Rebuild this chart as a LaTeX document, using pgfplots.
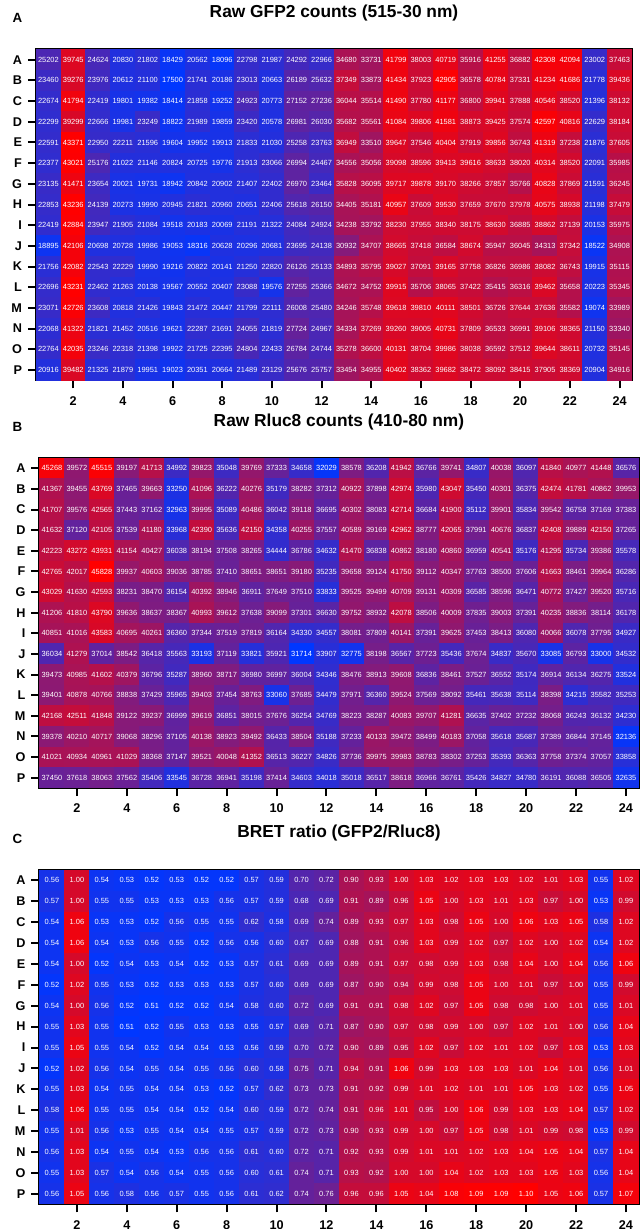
\documentclass[border=0pt]{standalone}
\usepackage{pgfplots}
\usepackage{pgfplotstable}
\pgfplotsset{compat=1.18}
\usepackage{fontspec}
\setmainfont{Liberation Sans}

% one row per plate row (A..P), one column per plate column (1..24)
\pgfplotstableread{
c1 c2 c3 c4 c5 c6 c7 c8 c9 c10 c11 c12 c13 c14 c15 c16 c17 c18 c19 c20 c21 c22 c23 c24
25202 39745 24624 20830 21802 18429 20562 18096 22798 21987 24292 22966 34680 33731 41799 38003 40719 35916 41255 36882 42308 42094 23002 37463
23460 39276 23976 20612 21100 17500 21741 20186 23013 20663 26189 25632 37349 33873 41434 37923 42905 36578 40784 37331 41234 41686 21778 39436
22674 41794 22419 19801 19382 18414 21858 19252 24923 20773 27152 27236 36044 35514 41490 37780 41177 36800 39941 37888 40546 38520 21396 38132
22299 39299 22666 19981 23249 18822 21989 19859 23420 20578 26981 26030 35682 35561 41084 39806 41581 38873 39425 37574 42597 40816 22629 38184
22591 43371 22950 22211 21596 19604 19952 19913 21833 21030 25258 23763 36949 33510 39647 37546 40404 37919 39856 36743 41319 37238 21876 37605
22377 43021 25176 21022 21146 20824 20725 19776 21913 23066 26994 24467 34556 35056 39098 38596 39413 39616 38633 38020 40314 38520 22091 35985
23135 41471 23654 20021 19731 18942 20842 20902 21407 22402 26970 23464 35828 36095 39717 39878 39170 38266 37857 35766 40828 37869 21591 36245
22853 43236 24139 20273 19990 20945 21821 20960 20651 22406 25618 26150 34405 35181 40957 37609 39530 37659 37670 37978 40575 38938 21198 37479
22419 42884 23947 21905 21084 19518 20183 20069 21191 21322 24084 24924 34238 33792 38230 37955 38340 38175 38630 36885 38862 37139 20153 35975
18895 42106 20698 20728 19986 19053 18316 20628 20296 20681 23695 24138 30932 34707 38665 37418 36584 38674 35947 36045 34313 37342 18522 34908
21756 42082 22543 22229 19990 19216 20822 20141 21250 22820 26126 25133 34893 35795 39027 37091 39165 37758 36826 36986 38082 36743 19915 35115
22696 43231 22462 21263 20138 19567 20552 20407 23088 19576 27255 25366 34672 34752 39915 35706 38065 37422 35415 36316 39462 35658 20223 35345
23071 42726 23608 20818 21426 19843 21472 20447 21799 22111 26008 25480 34246 35748 39618 39810 40111 38501 36726 37644 37636 35582 19074 33989
22068 41322 21821 21452 20516 19621 22287 21691 24055 21819 27724 24967 34334 37269 39260 39005 40731 37809 36533 36991 39106 38365 21150 33340
22764 42035 23246 22318 21398 19922 21725 22395 24804 22433 26784 24744 35278 36600 40131 38704 39986 38038 36592 37512 39644 38611 20732 35145
20916 39482 21325 21879 19951 19023 20351 20664 21489 23129 25676 25757 33454 34955 40402 38362 39682 38472 38092 38415 37905 38369 20904 34916
}\gfptable

\pgfplotstableread{
c1 c2 c3 c4 c5 c6 c7 c8 c9 c10 c11 c12 c13 c14 c15 c16 c17 c18 c19 c20 c21 c22 c23 c24
45268 39572 45515 39197 41713 34992 39823 35048 39769 37333 34658 32029 38578 36208 41942 36766 39741 34807 40038 36097 41840 40977 41448 36576
41367 39455 43769 37465 39663 33250 41096 36222 40276 35179 38282 37312 40922 37898 42974 35980 43047 35450 40301 36375 42474 41781 40862 39953
41707 39576 42565 37443 37162 32963 39995 35089 40486 36042 39118 36695 40302 38083 42714 36684 41900 35112 39901 35834 39542 36758 37169 37383
41632 37120 42105 37539 41180 33968 42390 35636 42150 34358 40255 37557 40589 39169 42962 38777 42065 37991 40676 36837 42408 39889 42150 37265
42223 43272 43931 41154 40427 36038 38194 37508 38265 34444 36786 34632 41470 36838 40862 38180 40860 36959 40541 35176 41295 35734 39386 35578
42765 42017 45828 39937 40603 39036 38785 37410 38651 38651 39180 35235 39658 39124 41750 39112 40347 37763 38500 37606 41663 38461 39964 36286
43029 41630 42593 38231 38470 36154 40392 38946 36911 37649 37510 33833 39525 39499 40709 39131 40309 36585 38596 36471 40772 37427 39520 35716
41206 41810 43790 39636 38637 38367 40993 39612 37638 39099 37301 36630 39752 38932 42078 38506 40009 37835 39003 37391 40235 38836 38114 36178
40851 41016 43583 40695 40261 36360 37344 37519 37819 36164 34330 34557 38081 37809 40141 37391 39625 37453 38413 36080 40066 36078 37795 34927
36034 41279 37014 38542 36418 35563 33193 37119 33821 35921 31714 33907 32775 38198 36567 37723 35436 37674 34837 35670 33085 36793 33000 34532
39473 40985 41602 40379 36796 35287 38960 38717 36980 36997 36004 34346 38476 38913 39608 36836 38461 37527 36552 35174 36914 36134 36275 33524
39401 40878 40766 38838 37429 35965 39403 37454 38763 33060 37685 34479 37971 36360 39524 37569 38092 35461 35638 35114 38398 34215 35582 35253
42168 42511 41848 39122 39237 36999 39619 36851 38015 37676 36254 34769 38223 38287 40083 39707 41281 36635 37402 37232 38068 36243 36132 34230
39378 40210 40717 39068 38296 37105 40138 38923 39492 36433 38504 35188 37233 40133 39472 38499 40183 37058 35618 35687 37389 36844 37145 32136
41021 40934 40961 41029 38368 37147 39521 40048 41352 36513 36227 34826 37736 39975 39983 38783 38302 37253 35393 36363 37758 37374 37057 33858
37450 37618 38063 37562 35406 33545 36728 36941 35198 37414 34603 34018 35018 36517 38618 36966 36761 35426 34827 34780 36191 36088 36505 32635
}\rluctable

\pgfplotstableread{
c1 c2 c3 c4 c5 c6 c7 c8 c9 c10 c11 c12 c13 c14 c15 c16 c17 c18 c19 c20 c21 c22 c23 c24
0.56 1.00 0.54 0.53 0.52 0.53 0.52 0.52 0.57 0.59 0.70 0.72 0.90 0.93 1.00 1.03 1.02 1.03 1.03 1.02 1.01 1.03 0.55 1.02
0.57 1.00 0.55 0.55 0.53 0.53 0.53 0.56 0.57 0.59 0.68 0.69 0.91 0.89 0.96 1.05 1.00 1.03 1.01 1.03 0.97 1.00 0.53 0.99
0.54 1.06 0.53 0.53 0.52 0.56 0.55 0.55 0.62 0.58 0.69 0.74 0.89 0.93 0.97 1.03 0.98 1.05 1.00 1.06 1.03 1.05 0.58 1.02
0.54 1.06 0.54 0.53 0.56 0.55 0.52 0.56 0.56 0.60 0.67 0.69 0.88 0.91 0.96 1.03 0.99 1.02 0.97 1.02 1.00 1.02 0.54 1.02
0.54 1.00 0.52 0.54 0.53 0.54 0.52 0.53 0.57 0.61 0.69 0.69 0.89 0.91 0.97 0.98 0.99 1.03 0.98 1.04 1.00 1.04 0.56 1.06
0.52 1.02 0.55 0.53 0.52 0.53 0.53 0.53 0.57 0.60 0.69 0.69 0.87 0.90 0.94 0.99 0.98 1.05 1.00 1.01 0.97 1.00 0.55 0.99
0.54 1.00 0.56 0.52 0.51 0.52 0.52 0.54 0.58 0.60 0.72 0.69 0.91 0.91 0.98 1.02 0.97 1.05 0.98 0.98 1.00 1.01 0.55 1.01
0.55 1.03 0.55 0.51 0.52 0.55 0.53 0.53 0.55 0.57 0.69 0.71 0.87 0.90 0.97 0.98 0.99 1.00 0.97 1.02 1.01 1.00 0.56 1.04
0.55 1.05 0.55 0.54 0.52 0.54 0.54 0.53 0.56 0.59 0.70 0.72 0.90 0.89 0.95 1.02 0.97 1.02 1.01 1.02 0.97 1.03 0.53 1.03
0.52 1.02 0.56 0.54 0.55 0.54 0.55 0.56 0.60 0.58 0.75 0.71 0.94 0.91 1.06 0.99 1.03 1.03 1.03 1.01 1.04 1.01 0.56 1.01
0.55 1.03 0.54 0.55 0.54 0.54 0.53 0.52 0.57 0.62 0.73 0.73 0.91 0.92 0.99 1.01 1.02 1.01 1.01 1.05 1.03 1.02 0.55 1.05
0.58 1.06 0.55 0.55 0.54 0.54 0.52 0.54 0.60 0.59 0.72 0.74 0.91 0.96 1.01 0.95 1.00 1.06 0.99 1.03 1.03 1.04 0.57 1.02
0.55 1.01 0.56 0.53 0.55 0.54 0.54 0.55 0.57 0.59 0.72 0.73 0.90 0.93 0.99 1.00 0.97 1.05 0.98 1.01 0.99 0.98 0.53 0.99
0.56 1.03 0.54 0.55 0.54 0.53 0.56 0.56 0.61 0.60 0.72 0.71 0.92 0.93 0.99 1.01 1.01 1.02 1.03 1.04 1.05 1.04 0.57 1.04
0.55 1.03 0.57 0.54 0.56 0.54 0.55 0.56 0.60 0.61 0.74 0.71 0.93 0.92 1.00 1.00 1.04 1.02 1.03 1.03 1.05 1.03 0.56 1.04
0.56 1.05 0.56 0.58 0.56 0.57 0.55 0.56 0.61 0.62 0.74 0.76 0.96 0.96 1.05 1.04 1.08 1.09 1.09 1.10 1.05 1.06 0.57 1.07
}\brettable

% filled rectangle the size of one well, and an empty mark for the value labels
\newdimen\cellw \newdimen\cellh
\pgfdeclareplotmark{cell}{%
  \pgfpathrectangle{\pgfpoint{-0.5\cellw}{-0.5\cellh}}{\pgfpoint{\cellw}{\cellh}}%
  \pgfusepathqfill}
\pgfdeclareplotmark{blank}{}

\pgfplotsset{
  heat/.style={
    scale only axis,
    xmin=0.5, xmax=24.5, ymin=0.5, ymax=16.5,
    y dir=reverse,
    axis on top,
    colormap={bluered}{rgb255=(0,55,255) rgb255=(255,0,0)},
    xtick={2,4,...,24},
    ytick={1,...,16},
    yticklabels={A,B,C,D,E,F,G,H,I,J,K,L,M,N,O,P},
    tick pos=left,
    tick align=outside,
    major tick length=6pt,
    tick style={black, line width=1.5pt},
    axis line style={line width=1.6pt},
    ticklabel style={font=\bfseries\fontsize{9.5}{11}\selectfont},
    xticklabel style={yshift=-2.5pt},
    yticklabel style={xshift=-1pt},
    /pgf/number format/assume math mode=true,
    title style={font=\bfseries\fontsize{13}{15}\selectfont, at={(0.5,1)}, anchor=base, yshift=18pt},
  },
  cells/.style={scatter, only marks, mark=cell, point meta=explicit,
    scatter/use mapped color={fill=mapped color, draw=none}},
  values/.style={only marks, mark=blank, point meta=explicit,
    nodes near coords={\pgfmathprintnumber[#1]{\pgfplotspointmeta}},
    nodes near coords align={center},
    every node near coord/.style={text=white, font=\fontsize{5.6}{6}\selectfont, anchor=center, inner sep=0pt}},
}
\tikzset{panel/.style={font=\bfseries\fontsize{10}{12}\selectfont, anchor=base west}}

\begin{document}
\begin{tikzpicture}

\cellw=18.9pt \cellh=15.8pt
\begin{axis}[heat, name=gfp, at={(27pt,-37pt)}, anchor=north west,
  width=447pt, height=248.25pt,
  title={Raw GFP2 counts (515-30 nm)},
  point meta min=17500, point meta max=43371]
\pgfplotsinvokeforeach{1,...,24}{
  \addplot[cells] table[x expr=#1, y expr=\coordindex+1, meta=c#1] {\gfptable};
}
\pgfplotsinvokeforeach{1,...,24}{
  \addplot[values={fixed, precision=0, 1000 sep={}}] table[x expr=#1, y expr=\coordindex+1, meta=c#1] {\gfptable};
}
\end{axis}

\cellw=19pt \cellh=15.75pt
\begin{axis}[heat, name=rluc, at={(29.6pt,-343.5pt)}, anchor=north west,
  width=449.25pt, height=247.5pt,
  title={Raw Rluc8 counts (410-80 nm)},
  point meta min=31714, point meta max=45828]
\pgfplotsinvokeforeach{1,...,24}{
  \addplot[cells] table[x expr=#1, y expr=\coordindex+1, meta=c#1] {\rluctable};
}
\pgfplotsinvokeforeach{1,...,24}{
  \addplot[values={fixed, precision=0, 1000 sep={}}] table[x expr=#1, y expr=\coordindex+1, meta=c#1] {\rluctable};
}
\end{axis}

\cellw=19pt \cellh=15.95pt
\begin{axis}[heat, name=bret, at={(29.6pt,-652.4pt)}, anchor=north west,
  width=449.25pt, height=250.8pt,
  title={BRET ratio (GFP2/Rluc8)},
  point meta min=0.51, point meta max=1.10]
\pgfplotsinvokeforeach{1,...,24}{
  \addplot[cells] table[x expr=#1, y expr=\coordindex+1, meta=c#1] {\brettable};
}
\pgfplotsinvokeforeach{1,...,24}{
  \addplot[values={fixed, fixed zerofill, precision=2}] table[x expr=#1, y expr=\coordindex+1, meta=c#1] {\brettable};
}
\end{axis}

\node[panel] at ([xshift=-21pt, yshift=20pt]gfp.north west) {A};
\node[panel] at ([xshift=-23.6pt, yshift=20pt]rluc.north west) {B};
\node[panel] at ([xshift=-23.6pt, yshift=20pt]bret.north west) {C};

\pgfresetboundingbox
\useasboundingbox (0,0) rectangle (480.75pt,-921.75pt);
\end{tikzpicture}
\end{document}
